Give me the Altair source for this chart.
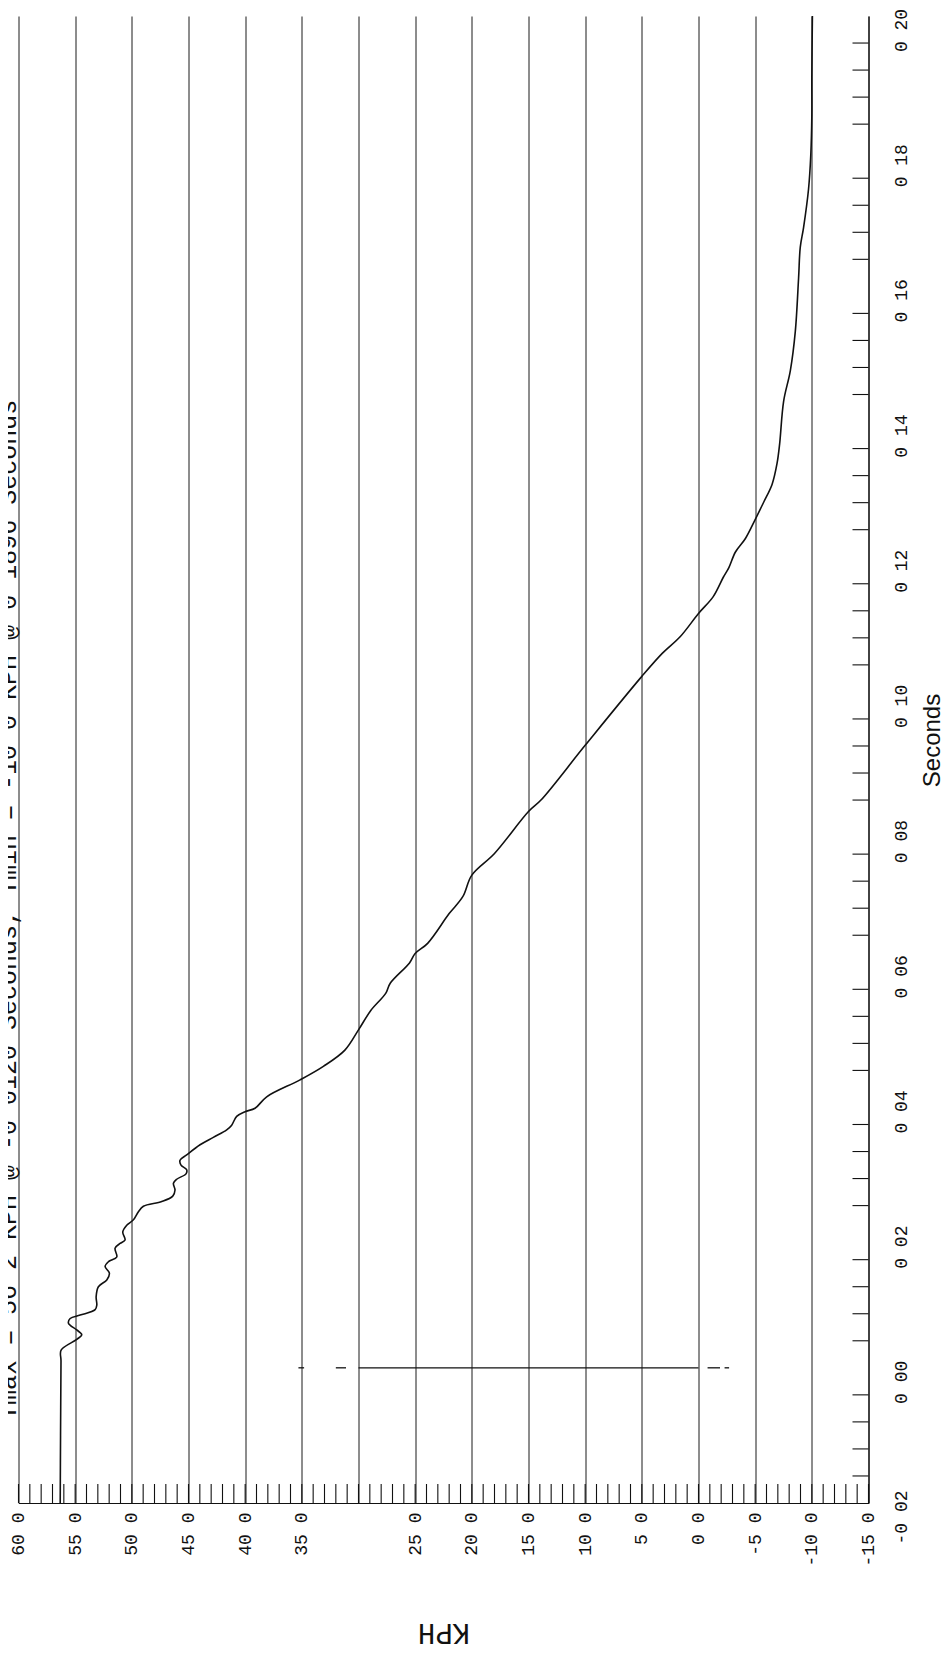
import altair as alt
import pandas as pd

# ---- data ----
seconds = [-0.0200, -0.0100, 0.0010, 0.0026, 0.0042, 0.0049, 0.0056, 0.0066, 0.0073, 0.0078,
           0.0086, 0.0093, 0.0105, 0.0120, 0.0130, 0.0140, 0.0150, 0.0157, 0.0164, 0.0177,
           0.0184, 0.0189, 0.0201, 0.0211, 0.0219, 0.0231, 0.0239, 0.0246, 0.0254, 0.0263,
           0.0273, 0.0279, 0.0287, 0.0293, 0.0300, 0.0307, 0.0315, 0.0330, 0.0341, 0.0352,
           0.0359, 0.0372, 0.0379, 0.0384, 0.0401, 0.0426, 0.0446, 0.0470, 0.0500, 0.0529,
           0.0554, 0.0569, 0.0599, 0.0613, 0.0628, 0.0672, 0.0697, 0.0729, 0.0761, 0.0823,
           0.0840, 0.0921, 0.1023, 0.1057, 0.1082, 0.1116, 0.1141, 0.1170, 0.1184, 0.1207,
           0.1227, 0.1255, 0.1281, 0.1307, 0.1338, 0.1367, 0.1430, 0.1475, 0.1533, 0.1612,
           0.1658, 0.1687, 0.1744, 0.1795, 0.1852, 0.1910, 0.2000]
kph = [56.32, 56.29, 56.25, 56.24, 54.86, 54.42, 54.86, 55.59, 55.44, 54.56,
       53.24, 53.09, 53.15, 52.95, 52.21, 51.98, 52.36, 52.06, 51.33, 51.48,
       51.04, 50.60, 50.80, 50.45, 49.86, 49.42, 48.98, 47.36, 46.39, 46.19,
       46.33, 46.04, 45.22, 45.16, 45.66, 45.75, 45.16, 43.98, 42.81, 41.63,
       41.19, 40.75, 40.01, 39.13, 38.10, 35.16, 33.10, 31.20, 30.00, 28.90,
       27.60, 27.20, 25.50, 25.00, 23.90, 22.00, 20.80, 20.00, 18.00, 15.00,
       13.90, 10.00, 5.00, 3.20, 1.60, 0.00, -1.30, -2.20, -2.68, -3.26,
       -4.14, -5.00, -5.76, -6.49, -6.93, -7.16, -7.51, -8.10, -8.54, -8.83,
       -8.98, -9.27, -9.71, -9.91, -10.00, -10.00, -10.05]

kph_major = [60, 55, 50, 45, 40, 35, 30, 25, 20, 15, 10, 5, 0, -5, -10, -15]
kph_major_labels = ["60 0", "55 0", "50 0", "45 0", "40 0", "35 0", "", "25 0", "20 0",
                    "15 0", "10 0", "5 0", "0 0", "-5 0", "-10 0", "-15 0"]
kph_minor = list(range(-15, 61))

sec_major = [-0.02, 0.00, 0.02, 0.04, 0.06, 0.08, 0.10, 0.12, 0.14, 0.16, 0.18, 0.20]
sec_major_labels = ["-0 02", "0 00", "0 02", "0 04", "0 06", "0 08", "0 10", "0 12",
                    "0 14", "0 16", "0 18", "0 20"]
sec_minor = [-0.016, -0.012, -0.008, -0.004, 0.004, 0.008, 0.012, 0.016, 0.024, 0.028,
             0.032, 0.036, 0.044, 0.048, 0.052, 0.056, 0.064, 0.068, 0.072, 0.076,
             0.084, 0.088, 0.092, 0.096, 0.104, 0.108, 0.112, 0.116, 0.124, 0.128,
             0.132, 0.136, 0.144, 0.148, 0.152, 0.156, 0.164, 0.168, 0.172, 0.176,
             0.184, 0.188, 0.192, 0.196]

marker_time = 0.0
marker_from = [35.3, 32.0, 30.0, -0.8, -2.3]
marker_to = [34.8, 31.1, 0.0, -1.9, -2.7]

title_text = "Tmax = 56 2 KPH @ -0 0120 Seconds,  Tmin = -10 0 KPH @ 0 1896 Seconds"

# ---- layout ----
W, H = 850, 1487
INK = "#111111"


def label_expr(values, labels):
    expr = "''"
    for v, l in reversed(list(zip(values, labels))):
        expr = f"abs(datum.value - ({v})) < 1e-9 ? '{l}' : {expr}"
    return expr


x_scale = alt.Scale(domain=[-15, 60], reverse=True, nice=False, zero=False)
y_scale = alt.Scale(domain=[-0.02, 0.20], nice=False, zero=False)

x_axis = alt.Axis(
    values=kph_major, labelExpr=label_expr(kph_major, kph_major_labels),
    labelAngle=270, labelAlign="right", labelBaseline="middle", labelPadding=9,
    labelFont="Liberation Mono", labelFontSize=18, labelColor=INK,
    labelFlush=False, labelOverlap=False, labelBound=False,
    ticks=False, grid=True, gridColor="#1a1a1a", gridWidth=1,
    domainColor=INK, domainWidth=1.2,
    title="KPH", titleAngle=180, titleFont="Liberation Mono", titleFontSize=29,
    titleFontWeight="normal", titleColor=INK, titleX=425, titleY=129,
    titleAlign="center", titleBaseline="middle",
)
y_axis = alt.Axis(
    orient="right", values=sec_major, labelExpr=label_expr(sec_major, sec_major_labels),
    labelAngle=270, labelAlign="center", labelBaseline="top", labelPadding=24,
    labelOffset=14, labelFont="Liberation Mono", labelFontSize=18, labelColor=INK,
    labelFlush=False, labelOverlap=False, labelBound=False,
    ticks=False, grid=False, domainColor=INK, domainWidth=1.2,
    title="Seconds", titleAngle=270, titleFont="Liberation Sans", titleFontSize=24,
    titleFontWeight="normal", titleColor=INK, titleX=64, titleY=724,
    titleAlign="center", titleBaseline="middle",
)

curve_df = pd.DataFrame({"i": list(range(len(seconds))), "t": seconds, "kph": kph})
minor_x_df = pd.DataFrame({"kph": kph_minor})
minor_y_df = pd.DataFrame({"t": sec_minor})
marker_df = pd.DataFrame({"kph": marker_from, "kph2": marker_to,
                          "t": [marker_time] * len(marker_from)})
title_df = pd.DataFrame({"label": [title_text]})

curve = alt.Chart(curve_df).mark_line(
    color=INK, strokeWidth=1.6, interpolate="catmull-rom"
).encode(
    x=alt.X("kph:Q", scale=x_scale, axis=x_axis),
    y=alt.Y("t:Q", scale=y_scale, axis=y_axis),
    order=alt.Order("i:Q"),
)

x_ticks = alt.Chart(minor_x_df).mark_rule(color=INK, strokeWidth=1.1).encode(
    x=alt.X("kph:Q", scale=x_scale, axis=x_axis),
    y=alt.value(H),
    y2=alt.value(H - 19),
)

y_ticks = alt.Chart(minor_y_df).mark_rule(color=INK, strokeWidth=1.1).encode(
    y=alt.Y("t:Q", scale=y_scale, axis=y_axis),
    x=alt.value(W - 16),
    x2=alt.value(W),
)

marker = alt.Chart(marker_df).mark_rule(color=INK, strokeWidth=1.3).encode(
    x=alt.X("kph:Q", scale=x_scale, axis=x_axis),
    x2="kph2:Q",
    y=alt.Y("t:Q", scale=y_scale, axis=y_axis),
)

title = alt.Chart(title_df).mark_text(
    angle=270, font="Liberation Mono", fontSize=25, color=INK,
    align="left", baseline="middle"
).encode(
    text="label:N",
    x=alt.value(-11),
    y=alt.value(1404),
)

chart = alt.layer(curve, x_ticks, y_ticks, marker, title).properties(
    width=W, height=H,
    autosize=alt.AutoSizeParams(type="none"),
    padding={"left": 10.5, "top": 8, "right": 75, "bottom": 143},
    background="white",
).configure_view(stroke=None)

chart.save("out.html", embed_options={"renderer": "svg", "actions": False})
